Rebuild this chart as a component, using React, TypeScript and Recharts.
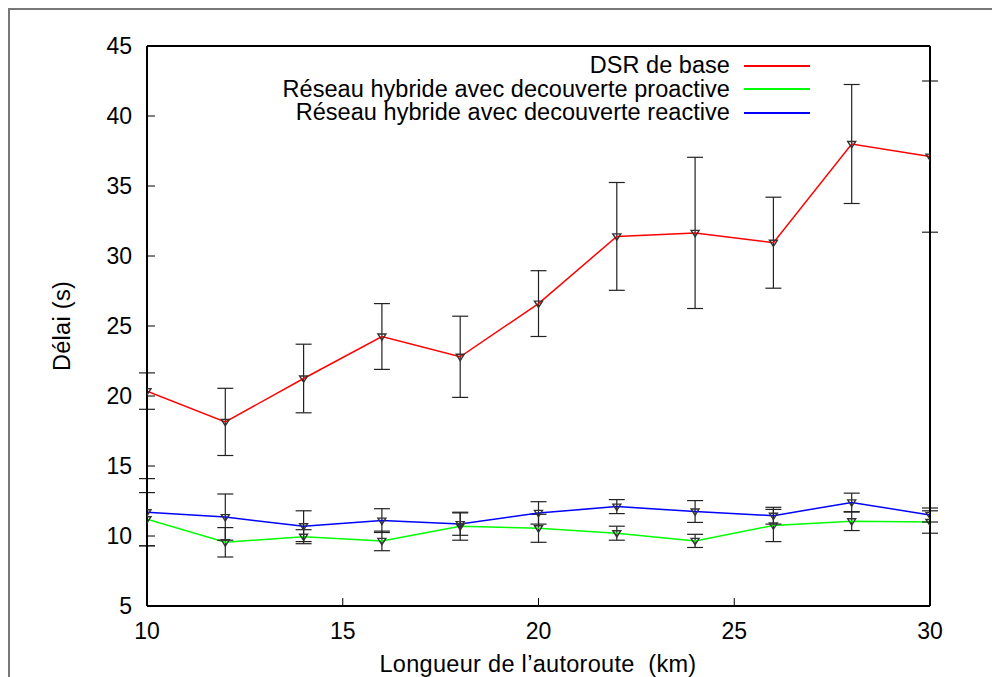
import { LineChart, Line, XAxis, YAxis, ErrorBar, Legend } from "recharts";

// highway length (km)
const DISTANCES = [10, 12, 14, 16, 18, 20, 22, 24, 26, 28, 30];

// mean delay (s) and error half-width per scenario
const DSR_DELAY = [20.35, 18.15, 21.25, 24.25, 22.8, 26.6, 31.4, 31.65, 30.95, 38.0, 37.1];
const DSR_ERR = [1.3, 2.4, 2.45, 2.35, 2.9, 2.35, 3.85, 5.4, 3.25, 4.25, 5.4];
const PROACTIVE_DELAY = [11.2, 9.55, 9.95, 9.65, 10.7, 10.55, 10.2, 9.65, 10.75, 11.05, 11.0];
const PROACTIVE_ERR = [1.9, 1.05, 0.5, 0.7, 1.0, 1.0, 0.5, 0.47, 1.15, 0.66, 0.8];
const REACTIVE_DELAY = [11.7, 11.35, 10.7, 11.1, 10.85, 11.65, 12.1, 11.75, 11.45, 12.4, 11.5];
const REACTIVE_ERR = [2.4, 1.65, 1.1, 0.85, 0.8, 0.8, 0.5, 0.78, 0.6, 0.66, 0.5];

const X_TICKS = [10, 15, 20, 25, 30];
const Y_TICKS = [5, 10, 15, 20, 25, 30, 35, 40, 45];

const NAME_DSR = "DSR de base";
const NAME_PROACTIVE = "Réseau hybride avec decouverte proactive";
const NAME_REACTIVE = "Réseau hybride avec decouverte reactive";

const COLOR_DSR = "#ff0000";
const COLOR_PROACTIVE = "#00ff00";
const COLOR_REACTIVE = "#0000ff";

const LEGEND_ROWS = [
  { name: NAME_DSR, color: COLOR_DSR },
  { name: NAME_PROACTIVE, color: COLOR_PROACTIVE },
  { name: NAME_REACTIVE, color: COLOR_REACTIVE },
];

const data = DISTANCES.map((x, i) => ({
  x,
  dsr: DSR_DELAY[i],
  dsrErr: DSR_ERR[i],
  pro: PROACTIVE_DELAY[i],
  proErr: PROACTIVE_ERR[i],
  re: REACTIVE_DELAY[i],
  reErr: REACTIVE_ERR[i],
}));

const FONT = "'Liberation Sans', Arial, sans-serif";
const tickStyle = { fontSize: 23, fill: "#000", fontFamily: FONT };
const titleText = { fontSize: 23.5, letterSpacing: 0.3, color: "#000" };

// gnuplot style down-pointing triangle
function TriangleDot(props: any) {
  const { cx, cy } = props;
  if (cx == null || cy == null) return null;
  return (
    <path
      d={`M${cx - 4},${cy - 2.5}L${cx + 4},${cy - 2.5}L${cx},${cy + 3.8}Z`}
      fill="none"
      stroke="#333"
      strokeWidth={1.4}
    />
  );
}

function LegendBox() {
  return (
    <div style={{ width: 560, fontFamily: FONT }}>
      {LEGEND_ROWS.map((row) => (
        <div
          key={row.name}
          style={{ display: "flex", justifyContent: "flex-end", alignItems: "center", height: 23.5 }}
        >
          <span style={{ ...titleText, letterSpacing: 0.05, lineHeight: "23.5px", whiteSpace: "nowrap" }}>
            {row.name}
          </span>
          <span
            style={{
              display: "inline-block",
              flex: "0 0 66px",
              width: 66,
              height: 2,
              background: row.color,
              marginLeft: 14,
            }}
          />
        </div>
      ))}
    </div>
  );
}

export default function App() {
  return (
    <div
      style={{
        position: "fixed",
        left: 0,
        top: 0,
        width: 992,
        height: 677,
        background: "#fff",
        fontFamily: FONT,
        overflow: "hidden",
      }}
    >
      <div
        style={{
          position: "absolute",
          left: 8,
          top: 8,
          width: 1000,
          height: 700,
          borderLeft: "2px solid #777",
          borderTop: "2px solid #777",
        }}
      />
      <LineChart width={992} height={677} data={data} margin={{ top: 45, right: 61, bottom: 41, left: 87 }}>
        <XAxis
          dataKey="x"
          type="number"
          domain={[10, 30]}
          ticks={X_TICKS}
          allowDataOverflow
          height={30}
          axisLine={{ stroke: "#000", strokeWidth: 2 }}
          tickLine={{ stroke: "#000", strokeWidth: 1 }}
          tickSize={-8}
          tickMargin={25}
          tick={tickStyle}
        />
        <XAxis
          xAxisId="top"
          dataKey="x"
          type="number"
          orientation="top"
          domain={[10, 30]}
          ticks={X_TICKS}
          allowDataOverflow
          height={1}
          axisLine={{ stroke: "#000", strokeWidth: 2 }}
          tickLine={{ stroke: "#000", strokeWidth: 1 }}
          tickSize={-8}
          tick={false}
        />
        <YAxis
          type="number"
          domain={[5, 45]}
          ticks={Y_TICKS}
          allowDataOverflow
          width={60}
          axisLine={{ stroke: "#000", strokeWidth: 2 }}
          tickLine={{ stroke: "#000", strokeWidth: 1 }}
          tickSize={-8}
          tickMargin={23}
          tick={tickStyle}
        />
        <YAxis
          yAxisId="right"
          type="number"
          orientation="right"
          domain={[5, 45]}
          ticks={Y_TICKS}
          allowDataOverflow
          width={1}
          axisLine={{ stroke: "#000", strokeWidth: 2 }}
          tickLine={{ stroke: "#000", strokeWidth: 1 }}
          tickSize={-8}
          tick={false}
        />
        <Legend
          layout="vertical"
          align="center"
          verticalAlign="middle"
          wrapperStyle={{ left: 250, top: 54, width: 560 }}
          content={<LegendBox />}
        />
        <Line
          dataKey="dsr"
          name={NAME_DSR}
          stroke={COLOR_DSR}
          strokeWidth={1.5}
          dot={(p: any) => <TriangleDot key={`dsr-${p.index}`} {...p} />}
          isAnimationActive={false}
        >
          <ErrorBar dataKey="dsrErr" width={8} stroke="#222" strokeWidth={1.2} direction="y" />
        </Line>
        <Line
          dataKey="pro"
          name={NAME_PROACTIVE}
          stroke={COLOR_PROACTIVE}
          strokeWidth={1.5}
          dot={(p: any) => <TriangleDot key={`pro-${p.index}`} {...p} />}
          isAnimationActive={false}
        >
          <ErrorBar dataKey="proErr" width={8} stroke="#222" strokeWidth={1.2} direction="y" />
        </Line>
        <Line
          dataKey="re"
          name={NAME_REACTIVE}
          stroke={COLOR_REACTIVE}
          strokeWidth={1.5}
          dot={(p: any) => <TriangleDot key={`re-${p.index}`} {...p} />}
          isAnimationActive={false}
        >
          <ErrorBar dataKey="reErr" width={8} stroke="#222" strokeWidth={1.2} direction="y" />
        </Line>
      </LineChart>
      <div
        style={{
          ...titleText,
          position: "absolute",
          left: 63,
          top: 326,
          transform: "translate(-50%, -50%) rotate(-90deg)",
          whiteSpace: "nowrap",
          lineHeight: 1,
        }}
      >
        Délai (s)
      </div>
      <div
        style={{
          ...titleText,
          position: "absolute",
          left: 538,
          top: 665,
          transform: "translate(-50%, -50%)",
          whiteSpace: "pre",
          lineHeight: 1,
        }}
      >
        {"Longueur de l’autoroute  (km)"}
      </div>
    </div>
  );
}
